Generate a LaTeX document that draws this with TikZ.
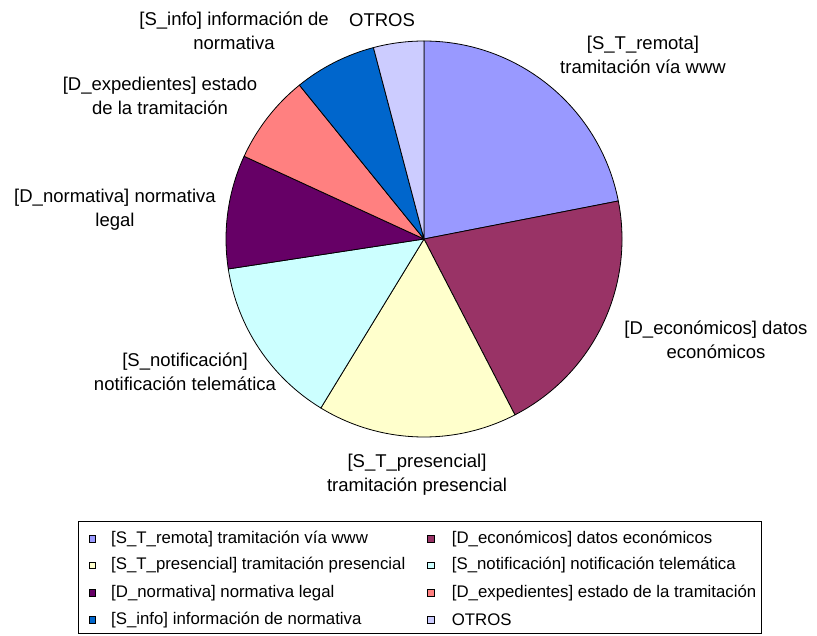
\documentclass[tikz,border=0pt]{standalone}
\usepackage{fontspec}
\setmainfont{Liberation Sans}

% slice colours
\definecolor{cRemota}{HTML}{9999FF}
\definecolor{cEcon}{HTML}{993366}
\definecolor{cPres}{HTML}{FFFFCC}
\definecolor{cNotif}{HTML}{CCFFFF}
\definecolor{cNorm}{HTML}{660066}
\definecolor{cExped}{HTML}{FF8080}
\definecolor{cInfo}{HTML}{0066CC}
\definecolor{cOtros}{HTML}{CCCCFF}

\begin{document}
\begin{tikzpicture}[x=1pt,y=-1pt,
  slice/.style={draw=black, line width=0.8pt, line join=round},
  lbl/.style={align=center, inner sep=0pt, text=black,
              font=\fontsize{18.5}{24}\selectfont},
  keybox/.style={draw=black, line width=0.6pt, minimum size=6.5pt, inner sep=0pt},
  keytext/.style={anchor=west, inner sep=0pt, text=black,
                  font=\fontsize{16.8}{20}\selectfont}]
\useasboundingbox (0,0) rectangle (817,635);

% pie: centre and radius
\coordinate (O) at (424,239);
\def\R{198}
\newcommand\pieslice[3]{%
  \filldraw[slice, fill=#3] (O) -- ++(#1:\R)
    arc[start angle=#1, end angle=#2, radius=\R] -- cycle;}

\pieslice{-90}{-11.07}{cRemota}
\pieslice{-11.07}{62.66}{cEcon}
\pieslice{62.66}{121.4}{cPres}
\pieslice{121.4}{171.3}{cNotif}
\pieslice{171.3}{204.7}{cNorm}
\pieslice{204.7}{231.0}{cExped}
\pieslice{231.0}{255.2}{cInfo}
\pieslice{255.2}{270}{cOtros}

% data labels
\node[lbl] (lRemota) at (643,55)  {[S\_T\_remota]\\tramitación vía www};
\node[lbl] (lEcon)   at (716,340) {[D\_económicos] datos\\económicos};
\node[lbl] (lPres)   at (417,475) {[S\_T\_presencial]\\tramitación presencial};
\node[lbl] (lNotif)  at (185,372) {[S\_notificación]\\notificación telemática};
\node[lbl] (lNorm)   at (115,210) {[D\_normativa] normativa\\legal};
\node[lbl] (lExped)  at (160,96)  {[D\_expedientes] estado\\de la tramitación};
\node[lbl] (lInfo)   at (234,31)  {[S\_info] información de\\normativa};
\node[lbl] (lOtros)  at (382,20)  {OTROS};

% legend
\draw[line width=0.8pt] (78.5,521.5) rectangle (761.5,633.5);

\node[keybox, fill=cRemota] (k1) at (92.3,539) {};
\node[keytext] (t1) at (111,539) {[S\_T\_remota] tramitación vía www};
\node[keybox, fill=cEcon] (k2) at (430.7,539) {};
\node[keytext] (t2) at (451.7,539) {[D\_económicos] datos económicos};

\node[keybox, fill=cPres] (k3) at (92.3,565.5) {};
\node[keytext] (t3) at (111,565.5) {[S\_T\_presencial] tramitación presencial};
\node[keybox, fill=cNotif] (k4) at (430.7,565.5) {};
\node[keytext] (t4) at (451.7,565.5) {[S\_notificación] notificación telemática};

\node[keybox, fill=cNorm] (k5) at (92.3,593) {};
\node[keytext] (t5) at (111,593) {[D\_normativa] normativa legal};
\node[keybox, fill=cExped] (k6) at (430.7,593) {};
\node[keytext] (t6) at (451.7,593) {[D\_expedientes] estado de la tramitación};

\node[keybox, fill=cInfo] (k7) at (92.3,620) {};
\node[keytext] (t7) at (111,620) {[S\_info] información de normativa};
\node[keybox, fill=cOtros] (k8) at (430.7,620) {};
\node[keytext] (t8) at (451.7,620) {OTROS};
\end{tikzpicture}
\end{document}
